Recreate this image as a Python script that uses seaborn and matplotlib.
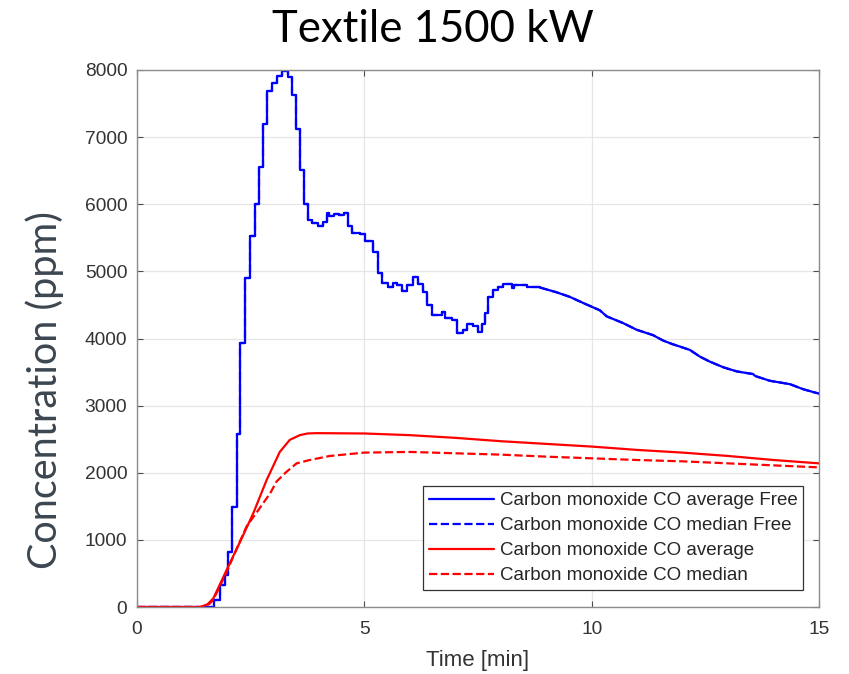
import numpy as np
import pandas as pd
import matplotlib
matplotlib.use("Agg")
import matplotlib.pyplot as plt
import seaborn as sns

# ---- data ----
blue_step_t = [0, 1.6, 1.7, 1.83, 1.94, 2.0, 2.08, 2.19, 2.27, 2.375, 2.49, 2.6, 2.69, 2.78, 2.87,
               2.96, 3.07, 3.2, 3.33, 3.4, 3.49, 3.58, 3.67, 3.75, 3.84, 3.99, 4.1, 4.17, 4.23,
               4.33, 4.44, 4.55, 4.65, 4.72, 4.9, 5.01, 5.2, 5.29, 5.38, 5.53, 5.63, 5.71, 5.82,
               5.93, 6.07, 6.19, 6.3, 6.38, 6.48, 6.7, 6.77, 6.92, 7.04, 7.17, 7.26, 7.39, 7.49,
               7.58, 7.65, 7.73, 7.82, 7.95, 8.04, 8.24, 8.3, 8.57, 8.86]
blue_step_v = [0, 0, 100, 330, 480, 820, 1495, 2580, 3930, 4900, 5520, 6000, 6560, 7200, 7690,
               7800, 7910, 7980, 7900, 7630, 7120, 6510, 6000, 5770, 5720, 5680, 5730, 5870, 5820,
               5850, 5840, 5870, 5670, 5570, 5550, 5450, 5295, 4970, 4820, 4760, 4830, 4790, 4710,
               4800, 4910, 4810, 4700, 4500, 4350, 4390, 4300, 4270, 4080, 4120, 4220, 4180, 4100,
               4220, 4380, 4620, 4720, 4760, 4810, 4750, 4800, 4760, 4760]
blue_tail_t = [8.86, 9.22, 9.52, 9.81, 10.18, 10.33, 10.69, 10.99, 11.35, 11.57, 11.76, 12.16,
               12.38, 12.6, 12.9, 13.19, 13.55, 13.6, 13.92, 14.36, 14.65, 14.91, 15.0]
blue_tail_v = [4760, 4690, 4620, 4530, 4420, 4330, 4230, 4130, 4050, 3970, 3920, 3830,
               3730, 3655, 3570, 3510, 3470, 3440, 3370, 3320, 3245, 3195, 3180]

red_avg_t = [0, 1.39, 1.55, 1.68, 1.97, 2.27, 2.56, 2.85, 3.14, 3.36, 3.58, 3.75, 3.95, 5.0, 6.0,
             7, 8, 9, 10, 11, 12, 13, 14, 15]
red_avg_v = [0, 0, 40, 130, 550, 975, 1400, 1890, 2310, 2490, 2560, 2585, 2590, 2585, 2560,
             2520, 2470, 2430, 2390, 2340, 2300, 2250, 2190, 2140]
red_med_t = [0, 1.45, 1.6, 1.68, 1.97, 2.2, 2.41, 2.67, 2.93, 3.07, 3.29, 3.51, 3.8, 4.24, 5.0,
             6.0, 7, 8, 9, 10, 11, 12, 13, 14, 15]
red_med_v = [0, 0, 50, 110, 520, 880, 1200, 1445, 1695, 1870, 2015, 2140, 2190, 2250, 2300,
             2310, 2290, 2270, 2240, 2215, 2190, 2170, 2140, 2110, 2080]

labels = ["Carbon monoxide CO average Free", "Carbon monoxide CO median Free",
          "Carbon monoxide CO average", "Carbon monoxide CO median"]
x_ticks = [0, 5, 10, 15]
y_ticks = [0, 1000, 2000, 3000, 4000, 5000, 6000, 7000, 8000]

sns.set_style("white")
plt.rcParams["font.family"] = ["Liberation Sans", "DejaVu Sans"]

fig = plt.figure(figsize=(8.49, 6.74), dpi=100)
ax = fig.add_axes([137/849, 1-607/674, (819-137)/849, (607-70)/674])

blue = "#0000ff"
red = "#ff0000"
lw = 1.6

bs = pd.DataFrame({"t": blue_step_t, "v": blue_step_v})
bt = pd.DataFrame({"t": blue_tail_t, "v": blue_tail_v})
ra = pd.DataFrame({"t": red_avg_t, "v": red_avg_v})
rm = pd.DataFrame({"t": red_med_t, "v": red_med_v})

# median Free lies underneath the average Free curve
sns.lineplot(data=bs, x="t", y="v", ax=ax, color=blue, lw=lw, ls="--", estimator=None,
             sort=False, drawstyle="steps-post")
sns.lineplot(data=bt, x="t", y="v", ax=ax, color=blue, lw=lw, ls="--", estimator=None, sort=False)
sns.lineplot(data=bs, x="t", y="v", ax=ax, color=blue, lw=lw, estimator=None,
             sort=False, drawstyle="steps-post")
sns.lineplot(data=bt, x="t", y="v", ax=ax, color=blue, lw=lw, estimator=None, sort=False)
sns.lineplot(data=ra, x="t", y="v", ax=ax, color=red, lw=lw, estimator=None, sort=False)
sns.lineplot(data=rm, x="t", y="v", ax=ax, color=red, lw=lw, ls="--", estimator=None, sort=False)

lines = ax.get_lines()
handles = [lines[2], lines[0], lines[4], lines[5]]
leg = ax.legend(handles, labels, loc="lower right", bbox_to_anchor=(0.977, 0.032),
                borderaxespad=0, fontsize=13.5, frameon=True, fancybox=False, framealpha=1,
                edgecolor="#333333", handlelength=3.5, borderpad=0.3, labelspacing=0.42,
                handletextpad=0.3)
leg.get_frame().set_linewidth(0.9)
for t in leg.get_texts():
    t.set_color("#262626")

ax.set_xlim(0, 15)
ax.set_ylim(0, 8000)
ax.set_xticks(x_ticks)
ax.set_yticks(y_ticks)
ax.set_xticklabels([str(v) for v in x_ticks])
ax.set_yticklabels([str(v) for v in y_ticks])
ax.grid(True, color="#e6e6e6", lw=0.9)
ax.set_axisbelow(True)
ax.tick_params(direction="in", length=4, width=0.8, colors="#4d4d4d", labelsize=13.8,
               labelcolor="#333333", top=True, right=True, bottom=True, left=True)
ax.tick_params(axis="y", pad=7)
ax.tick_params(axis="x", pad=10)
for s in ax.spines.values():
    s.set_color("#8c8c8c")
    s.set_linewidth(1.0)
ax.set_xlabel("Time [min]", fontsize=16, color="#333333", labelpad=9)
ax.set_ylabel("")

fig.text(433/849, 1-29/674, "Textile 1500 kW", ha="center", va="center",
         fontsize=31.5, family=["Lato", "DejaVu Sans"], color="black")
fig.text(45/849, 1-390/674, "Concentration (ppm)", ha="center", va="center", rotation=90,
         fontsize=28.5, family=["Lato", "DejaVu Sans"], color="#3c4650")

fig.savefig("out.png", dpi=100)
